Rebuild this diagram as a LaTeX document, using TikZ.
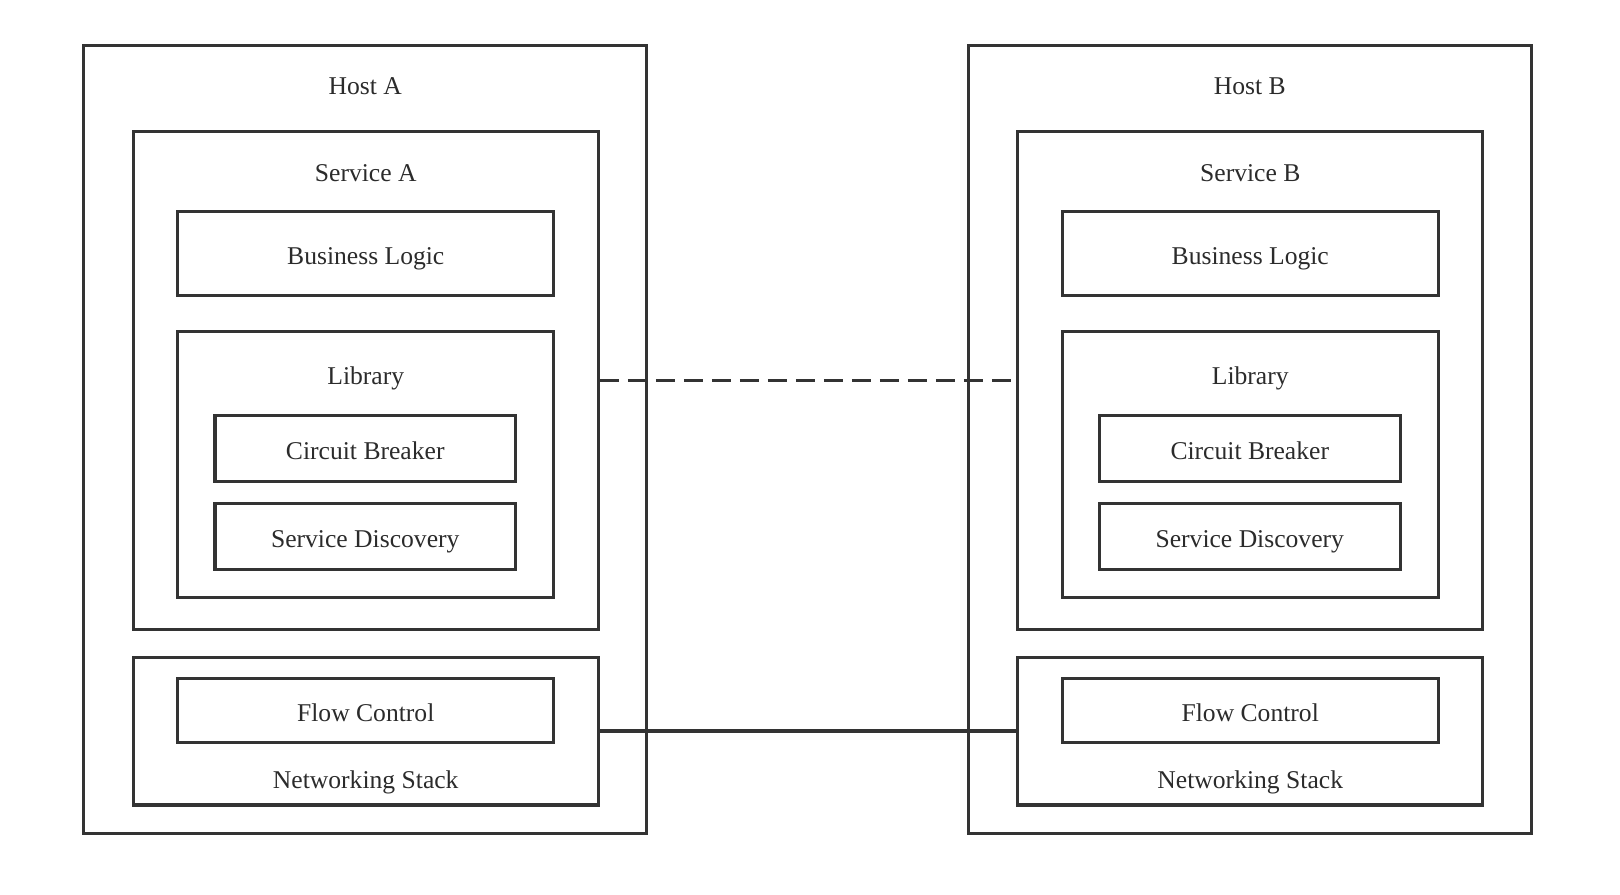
\documentclass[tikz,border=0pt]{standalone}
\usepackage{fontspec}
\setmainfont{Liberation Serif}
\usepackage{xcolor}
\definecolor{linegray}{HTML}{333333}
\definecolor{textgray}{HTML}{2B2B2B}

\begin{document}
\begin{tikzpicture}[
            x=0.5pt, y=-0.5pt,
            box/.style={draw=linegray, line width=1.6pt, inner sep=0pt, text height=11pt, text depth=0pt, text=textgray, font=\fontsize{12.8}{15}\selectfont},
            lbl/.style={anchor=base, inner sep=0pt, text=textgray, font=\fontsize{12.8}{15}\selectfont},
            link/.style={draw=linegray, line width=1.6pt}
        ]
            \useasboundingbox (0,0) rectangle (1620,894);

            % Host A on left
            \node[box, minimum width=281.5pt, minimum height=394pt] (hostA) at (365.25,439.6) {};
            \node[lbl] (hostAlabel) at (365.25,94.5) {Host A};
            \node[box, minimum width=232.5pt, minimum height=249pt] (servA) at (365.75,380.2) {};
            \node[lbl] (servAlabel) at (365.75,181) {Service A};
            \node[box, minimum width=188pt, minimum height=41.85pt] (bizA) at (365.75,253.65) {Business Logic};
            \node[box, minimum width=188pt, minimum height=132.8pt] (libA) at (365.75,464.4) {};
            \node[lbl] (libAlabel) at (365.75,384) {Library};
            \node[box, minimum width=150.35pt, minimum height=33.1pt] (cbA) at (365.25,448.4) {Circuit Breaker};
            \node[box, minimum width=150.35pt, minimum height=33pt] (sdA) at (365.25,536.25) {Service Discovery};
            \node[box, minimum width=232.5pt, minimum height=73.9pt] (netA) at (365.75,731) {};
            \node[lbl] (netAlabel) at (365.75,788) {Networking Stack};
            \node[box, minimum width=188pt, minimum height=32pt] (flowA) at (365.75,710.85) {Flow Control};

            % Host B on right
            \node[box, minimum width=281.5pt, minimum height=394pt] (hostB) at (1249.75,439.6) {};
            \node[lbl] (hostBlabel) at (1249.75,94.5) {Host B};
            \node[box, minimum width=232.5pt, minimum height=249pt] (servB) at (1250.25,380.2) {};
            \node[lbl] (servBlabel) at (1250.25,181) {Service B};
            \node[box, minimum width=188pt, minimum height=41.85pt] (bizB) at (1250.25,253.65) {Business Logic};
            \node[box, minimum width=188pt, minimum height=132.8pt] (libB) at (1250.25,464.4) {};
            \node[lbl] (libBlabel) at (1250.25,384) {Library};
            \node[box, minimum width=150.35pt, minimum height=33.1pt] (cbB) at (1249.75,448.4) {Circuit Breaker};
            \node[box, minimum width=150.35pt, minimum height=33pt] (sdB) at (1249.75,536.25) {Service Discovery};
            \node[box, minimum width=232.5pt, minimum height=73.9pt] (netB) at (1250.25,731) {};
            \node[lbl] (netBlabel) at (1250.25,788) {Networking Stack};
            \node[box, minimum width=188pt, minimum height=32pt] (flowB) at (1250.25,710.85) {Flow Control};

            % Links between the hosts
            \draw[link, dash pattern=on 9.5pt off 4.5pt] (servA) -- (servB);
            \draw[link] (netA) -- (netB);

        \end{tikzpicture}
\end{document}
